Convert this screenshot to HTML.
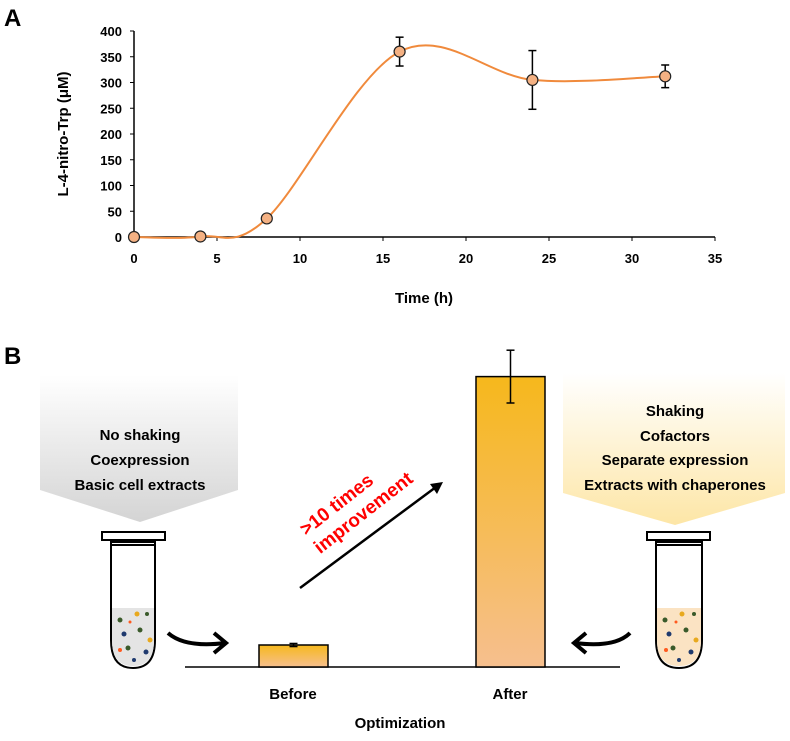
<!DOCTYPE html>
<html><head><meta charset="utf-8"><style>
body{margin:0;background:#fff;}
svg text{font-family:"Liberation Sans",sans-serif;font-weight:bold;}
</style></head><body>
<svg width="790" height="736" viewBox="0 0 790 736">
<defs>
<linearGradient id="gg" x1="0" y1="0" x2="0" y2="1"><stop offset="0" stop-color="#ffffff"/><stop offset="1" stop-color="#d4d4d4"/></linearGradient>
<linearGradient id="yg" x1="0" y1="0" x2="0" y2="1"><stop offset="0" stop-color="#ffffff"/><stop offset="1" stop-color="#fde6a6"/></linearGradient>
<linearGradient id="bg" x1="0" y1="0" x2="0" y2="1"><stop offset="0" stop-color="#f6b81c"/><stop offset="1" stop-color="#f6bf8e"/></linearGradient>
</defs>
<text x="4" y="26" font-size="24">A</text>
<g id="chartA"></g>
<text x="4" y="364" font-size="24">B</text>
<polygon points="40,375 238,375 238,490 140,522 40,490" fill="url(#gg)"/>
<g font-size="15" text-anchor="middle">
<text x="140" y="440">No shaking</text><text x="140" y="465">Coexpression</text><text x="140" y="490">Basic cell extracts</text></g>
<polygon points="563,373 785,373 785,493 675,525 563,493" fill="url(#yg)"/>
<g font-size="15" text-anchor="middle">
<text x="675" y="416">Shaking</text><text x="675" y="441">Cofactors</text><text x="675" y="465">Separate expression</text><text x="675" y="490">Extracts with chaperones</text></g>
<g>
<rect x="102" y="532" width="63" height="8" fill="#fff" stroke="#000" stroke-width="2"/>
<path d="M111,542 L111,640 Q111,668 133,668 Q155,668 155,640 L155,542 Z" fill="#fff" stroke="#000" stroke-width="2"/>
<path d="M112,608 L154,608 L154,640 Q154,666 133,666 Q112,666 112,640 Z" fill="#e4e4e4"/>
<g fill="#3a5a2a"><circle cx="120" cy="620" r="2.5"/><circle cx="140" cy="630" r="2.5"/><circle cx="128" cy="648" r="2.5"/><circle cx="147" cy="614" r="2"/></g>
<g fill="#e8a91e"><circle cx="137" cy="614" r="2.5"/><circle cx="150" cy="640" r="2.5"/></g>
<g fill="#1f3a6e"><circle cx="124" cy="634" r="2.5"/><circle cx="146" cy="652" r="2.5"/><circle cx="134" cy="660" r="2"/></g>
<g fill="#ff5a1f"><circle cx="130" cy="622" r="1.5"/><circle cx="120" cy="650" r="2"/></g>
<line x1="111" y1="545" x2="155" y2="545" stroke="#000" stroke-width="2"/>
</g>
<g>
<rect x="647" y="532" width="63" height="8" fill="#fff" stroke="#000" stroke-width="2"/>
<path d="M656,542 L656,640 Q656,668 679,668 Q702,668 702,640 L702,542 Z" fill="#fff" stroke="#000" stroke-width="2"/>
<path d="M657,608 L701,608 L701,640 Q701,666 679,666 Q657,666 657,640 Z" fill="#fbe3c3"/>
<g fill="#3a5a2a"><circle cx="665" cy="620" r="2.5"/><circle cx="686" cy="630" r="2.5"/><circle cx="673" cy="648" r="2.5"/><circle cx="694" cy="614" r="2"/></g>
<g fill="#e8a91e"><circle cx="682" cy="614" r="2.5"/><circle cx="696" cy="640" r="2.5"/></g>
<g fill="#1f3a6e"><circle cx="669" cy="634" r="2.5"/><circle cx="691" cy="652" r="2.5"/><circle cx="679" cy="660" r="2"/></g>
<g fill="#ff5a1f"><circle cx="676" cy="622" r="1.5"/><circle cx="666" cy="650" r="2"/></g>
<line x1="656" y1="545" x2="702" y2="545" stroke="#000" stroke-width="2"/>
</g>
<path d="M168,633 Q185,648 225,643" fill="none" stroke="#000" stroke-width="4"/>
<path d="M214,633 L226,643 L214,653" fill="none" stroke="#000" stroke-width="4"/>
<path d="M630,633 Q615,648 575,643" fill="none" stroke="#000" stroke-width="4"/>
<path d="M586,633 L574,643 L586,653" fill="none" stroke="#000" stroke-width="4"/>
<line x1="300" y1="588" x2="436" y2="487" stroke="#000" stroke-width="2.5"/>
<polygon points="443,482 430,484 437,494" fill="#000"/>
<g transform="translate(352,508) rotate(-38)" font-size="19" fill="#ff0000" text-anchor="middle">
<text x="-10" y="-6">&gt;10 times</text><text x="6" y="17">improvement</text></g>
<g id="chartB"></g>
<text x="293" y="699" font-size="15" text-anchor="middle">Before</text>
<text x="510" y="699" font-size="15" text-anchor="middle">After</text>
<text x="400" y="728" font-size="15" text-anchor="middle">Optimization</text>
</svg>
<script>
const times=[0,4,8,16,24,32];
const conc=[0,1,36,360,305,312];
const errs=[0,0,0,28,57,22];
const xTicks=[0,5,10,15,20,25,30,35];
const yTicks=[0,50,100,150,200,250,300,350,400];
const barCats=["Before","After"];
const barVals=[1,13.2];
const barErrs=[0.07,1.2];
const NS="http://www.w3.org/2000/svg";
function mk(p,t,a){const e=document.createElementNS(NS,t);for(const k in a)e.setAttribute(k,a[k]);p.appendChild(e);return e;}
const gA=document.getElementById('chartA');
const xs=v=>134+v*(581/35);
const ys=v=>237-v*(206/400);
mk(gA,'line',{x1:134,y1:31,x2:134,y2:237,stroke:'#000','stroke-width':1.5});
mk(gA,'line',{x1:134,y1:237,x2:715,y2:237,stroke:'#000','stroke-width':1.5});
yTicks.forEach(v=>{const t=mk(gA,'text',{x:122,y:ys(v)+5,'font-size':13,'text-anchor':'end'});t.textContent=v;


mk(gA,'line',{x1:130,y1:ys(v),x2:134,y2:ys(v),stroke:'#000'});});
xTicks.forEach(v=>{const t=mk(gA,'text',{x:xs(v),y:263,'font-size':13,'text-anchor':'middle'});t.textContent=v;


mk(gA,'line',{x1:xs(v),y1:237,x2:xs(v),y2:241,stroke:'#000'});});
const xt=mk(gA,'text',{x:424,y:303,'font-size':15,'text-anchor':'middle'});xt.textContent='Time (h)';


const yt=mk(gA,'text',{x:0,y:0,'font-size':15,'text-anchor':'middle',transform:'translate(68,134) rotate(-90)'});yt.textContent='L-4-nitro-Trp (\u03BCM)';


const P=times.map((t,i)=>[xs(t),ys(conc[i])]);
let d='M'+P[0][0]+','+P[0][1];
for(let i=0;i<P.length-1;i++){const p0=P[Math.max(i-1,0)],p1=P[i],p2=P[i+1],p3=P[Math.min(i+2,P.length-1)];const k=1/6;
d+=` C${p1[0]+(p2[0]-p0[0])*k},${p1[1]+(p2[1]-p0[1])*k} ${p2[0]-(p3[0]-p1[0])*k},${p2[1]-(p3[1]-p1[1])*k} ${p2[0]},${p2[1]}`;}
const ln=mk(gA,'path',{d:d,fill:'none',stroke:'#f08a3c','stroke-width':2});


times.forEach((t,i)=>{if(errs[i]>0){const x=xs(t);mk(gA,'line',{x1:x,y1:ys(conc[i]+errs[i]),x2:x,y2:ys(conc[i]-errs[i]),stroke:'#000','stroke-width':1.5});
[conc[i]+errs[i],conc[i]-errs[i]].forEach(v=>mk(gA,'line',{x1:x-4,y1:ys(v),x2:x+4,y2:ys(v),stroke:'#000','stroke-width':1.5}));}
const c=mk(gA,'circle',{cx:xs(t),cy:ys(conc[i]),r:5.5,fill:'#f4b183',stroke:'#222','stroke-width':1.2});

});
const gB=document.getElementById('chartB');
const base=667,sc=22,bx=[259,476],bw=69;
mk(gB,'line',{x1:185,y1:base,x2:620,y2:base,stroke:'#000','stroke-width':1.5});
barVals.forEach((v,i)=>{const r=mk(gB,'rect',{x:bx[i],y:base-v*sc,width:bw,height:v*sc,fill:'url(#bg)',stroke:'#000','stroke-width':1.5});


const cx=bx[i]+bw/2,t=base-(v+barErrs[i])*sc,b=base-(v-barErrs[i])*sc;
mk(gB,'line',{x1:cx,y1:t,x2:cx,y2:b,stroke:'#000','stroke-width':1.5});
mk(gB,'line',{x1:cx-4,y1:t,x2:cx+4,y2:t,stroke:'#000','stroke-width':1.5});
mk(gB,'line',{x1:cx-4,y1:b,x2:cx+4,y2:b,stroke:'#000','stroke-width':1.5});});
</script>
</body></html>
